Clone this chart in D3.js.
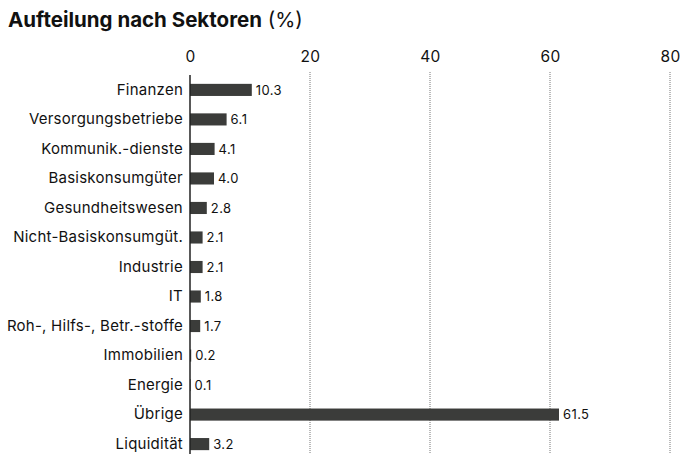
<!DOCTYPE html>
<html>
<head>
<meta charset="utf-8">
<script src="https://cdn.jsdelivr.net/npm/d3@7"></script>
<style>
  body { margin: 0; background: #fff; }
  svg { font-family: Inter, "Noto Sans", sans-serif; }
</style>
</head>
<body>
<svg width="687" height="454"></svg>
<script>
const categories = ['Finanzen', 'Versorgungsbetriebe', 'Kommunik.-dienste', 'Basiskonsumgüter',
  'Gesundheitswesen', 'Nicht-Basiskonsumgüt.', 'Industrie', 'IT', 'Roh-, Hilfs-, Betr.-stoffe',
  'Immobilien', 'Energie', 'Übrige', 'Liquidität'];
const values = [10.3, 6.1, 4.1, 4.0, 2.8, 2.1, 2.1, 1.8, 1.7, 0.2, 0.1, 61.5, 3.2];
const ticks = [0, 20, 40, 60, 80];

const SVG = d3.select('svg');
const LEFT = 190;
const RIGHT = 670;
const TOP = 75;
const BOTTOM = 459;

SVG.append('text')
  .attr('x', 8)
  .attr('y', 27)
  .style('font-size', '20.5px')
  .style('fill', '#111')
  .html('<tspan font-weight="700">Aufteilung nach Sektoren</tspan><tspan font-weight="400"> (%)</tspan>');

const X_SCALE = d3.scaleLinear().domain([0, 80]).range([LEFT, RIGHT]);
const Y_SCALE = d3.scaleBand().domain(categories).range([TOP, BOTTOM]).paddingInner(0.59).paddingOuter(0.3);

// gridlines
SVG.append('g')
  .selectAll('line')
  .data(ticks.slice(1))
  .join('line')
  .attr('x1', d => X_SCALE(d))
  .attr('x2', d => X_SCALE(d))
  .attr('y1', 72)
  .attr('y2', 454)
  .style('stroke', '#777')
  .style('stroke-width', 1)
  .style('stroke-dasharray', '1,1');

// top axis labels
const X_AXIS = d3.axisTop(X_SCALE).tickValues(ticks).tickSize(0).tickPadding(0);
const X_AXIS_G = SVG.append('g').attr('transform', 'translate(0,62)');
X_AXIS(X_AXIS_G);
X_AXIS_G.select('.domain').remove();
X_AXIS_G.selectAll('text')
  .style('font-family', 'Inter, "Noto Sans", sans-serif')
  .style('font-size', '15.5px')
  .style('letter-spacing', '0.4px')
  .style('fill', '#111');

// bars
SVG.append('g')
  .selectAll('rect')
  .data(values)
  .join('rect')
  .attr('x', X_SCALE(0))
  .attr('y', (d, i) => Y_SCALE(categories[i]))
  .attr('width', d => X_SCALE(d) - X_SCALE(0))
  .attr('height', Y_SCALE.bandwidth())
  .style('fill', '#3b3c3a');

// value labels
SVG.append('g')
  .selectAll('text')
  .data(values)
  .join('text')
  .attr('x', d => X_SCALE(d) + 4)
  .attr('y', (d, i) => Y_SCALE(categories[i]) + Y_SCALE.bandwidth() / 2)
  .attr('dy', '0.36em')
  .text(d => d.toFixed(1))
  .style('font-size', '13px')
  .style('letter-spacing', '0.4px')
  .style('fill', '#111');

// category axis
const Y_AXIS = d3.axisLeft(Y_SCALE).tickSize(0).tickPadding(7);
const Y_AXIS_G = SVG.append('g').attr('transform', `translate(${LEFT},0)`);
Y_AXIS(Y_AXIS_G);
Y_AXIS_G.select('.domain').remove();
Y_AXIS_G.selectAll('text')
  .style('font-family', 'Inter, "Noto Sans", sans-serif')
  .style('font-size', '15px')
  .style('letter-spacing', '0.25px')
  .style('fill', '#111');

SVG.append('line')
  .attr('x1', LEFT)
  .attr('x2', LEFT)
  .attr('y1', 75)
  .attr('y2', 454)
  .style('stroke', '#222')
  .style('stroke-width', 1.5);
</script>
</body>
</html>
